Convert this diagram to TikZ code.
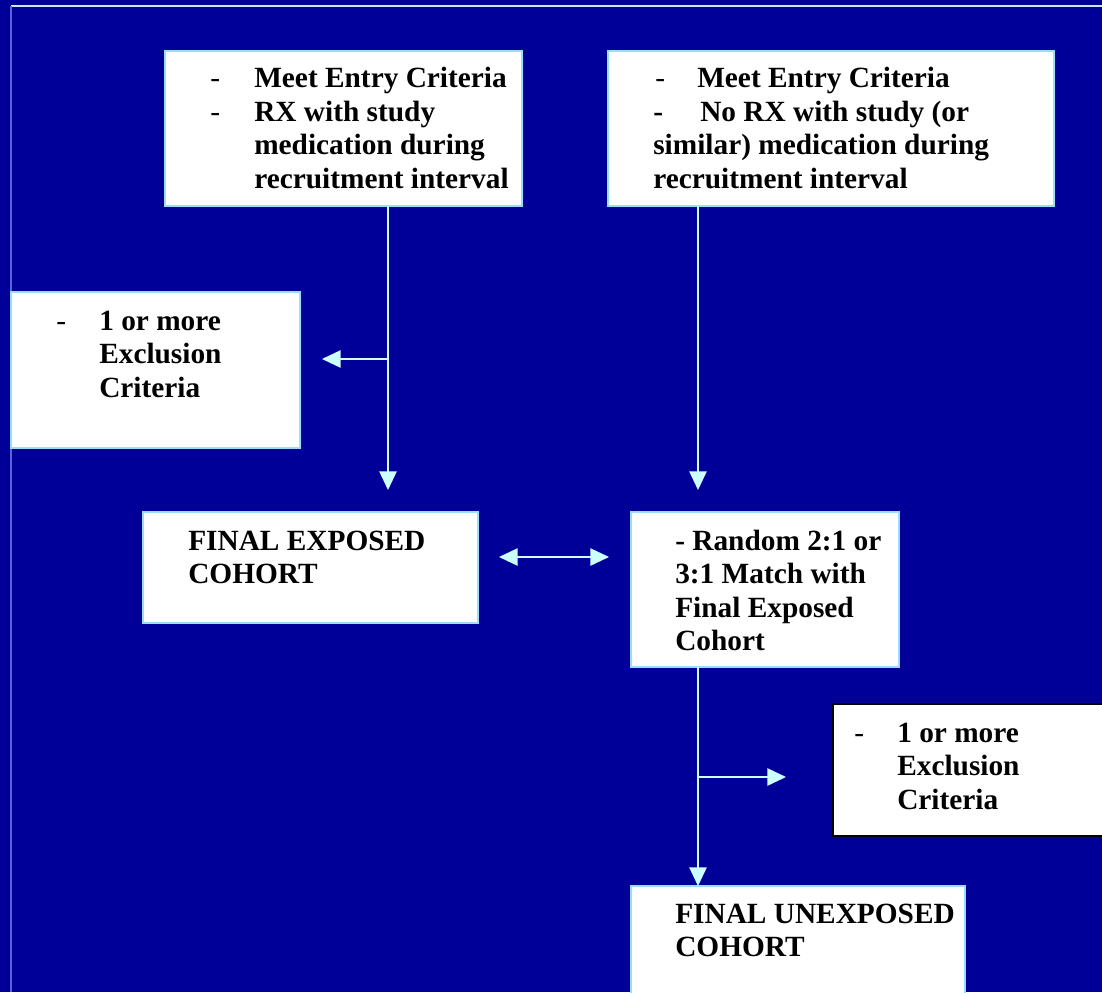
\documentclass[tikz,border=0pt]{standalone}
\usepackage{fontspec}
\setmainfont{Liberation Serif}
\usetikzlibrary{arrows.meta,calc}
\definecolor{bg}{HTML}{000099}
\definecolor{lcyan}{HTML}{CCFFFF}
\definecolor{frameline}{HTML}{CCE8FF}
\definecolor{leftline}{HTML}{5566D8}
\definecolor{boxedge}{HTML}{99DDFF}
\tikzset{
  box/.style={draw=boxedge, line width=1pt, fill=white, anchor=north west, inner sep=0pt, outer sep=0pt},
  blackbox/.style={box, draw=black, line width=1.6pt},
  txt/.style={font=\bfseries\fontsize{22}{25}\selectfont, anchor=base west, inner sep=0pt, text=black},
  thin/.style={font=\mdseries\fontsize{22}{25}\selectfont, anchor=base west, inner sep=0pt, text=black},
  arr/.style={draw=lcyan, line width=1.2pt, -{Triangle[length=14pt,width=13pt]}},
  darr/.style={draw=lcyan, line width=1.2pt, {Triangle[length=14pt,width=13pt]}-{Triangle[length=14pt,width=13pt]}},
  seg/.style={draw=lcyan, line width=1.2pt}
}
\begin{document}
\begin{tikzpicture}[x=0.75pt,y=-0.75pt]
\fill[bg] (0,0) rectangle (1102,992);
\useasboundingbox (0,0) rectangle (1102,992);
\clip (0,0) rectangle (1102,992);
\draw[frameline, line width=1.2pt] (11,6) -- (1102,6);
\draw[leftline, line width=1pt] (11,6) -- (11,992);
% boxes
\node[box, minimum width=357*0.75pt, minimum height=155*0.75pt] (b1) at (165,51) {};
\node[box, minimum width=446*0.75pt, minimum height=155*0.75pt] (b2) at (608,51) {};
\node[box, minimum width=289*0.75pt, minimum height=156*0.75pt] (b3) at (11,292) {};
\node[box, minimum width=335*0.75pt, minimum height=111*0.75pt] (b4) at (143,512) {};
\node[box, minimum width=268*0.75pt, minimum height=155*0.75pt] (b5) at (631,512) {};
\node[blackbox, minimum width=290*0.75pt, minimum height=132*0.75pt] (b6) at (833,704) {};
\node[box, minimum width=334*0.75pt, minimum height=140*0.75pt] (b7) at (631,886) {};
% texts box1
\node[thin] (t1a) at (210,87) {-};
\node[txt] (t1b) at (254,87) {Meet Entry Criteria};
\node[thin] (t1c) at (210,121) {-};
\node[txt] (t1d) at (254,121) {RX with study};
\node[txt] (t1e) at (254,154) {medication during};
\node[txt] (t1f) at (254,188) {recruitment interval};
% box2
\node[thin] (t2a) at (655,87) {-};
\node[txt] (t2b) at (697,87) {Meet Entry Criteria};
\node[txt] (t2c) at (653,121) {-};
\node[txt] (t2d) at (700,121) {No RX with study (or};
\node[txt] (t2e) at (653,154) {similar) medication during};
\node[txt] (t2f) at (653,188) {recruitment interval};
% box3
\node[thin] (t3a) at (56,330) {-};
\node[txt] (t3b) at (99,330) {1 or more};
\node[txt] (t3c) at (99,363) {Exclusion};
\node[txt] (t3d) at (99,397) {Criteria};
% box4
\node[txt] (t4a) at (188,550) {FINAL EXPOSED};
\node[txt] (t4b) at (188,583) {COHORT};
% box5
\node[txt] (t5a) at (675,550) {- Random 2:1 or};
\node[txt] (t5b) at (675,583) {3:1 Match with};
\node[txt] (t5c) at (675,617) {Final Exposed};
\node[txt] (t5d) at (675,650) {Cohort};
% box6
\node[thin] (t6a) at (854,742) {-};
\node[txt] (t6b) at (897,742) {1 or more};
\node[txt] (t6c) at (897,775) {Exclusion};
\node[txt] (t6d) at (897,809) {Criteria};
% box7
\node[txt] (t7a) at (675,923) {FINAL UNEXPOSED};
\node[txt] (t7b) at (675,956) {COHORT};
% connector coordinates
\coordinate (s1) at (388,206);
\coordinate (e1) at (388,490);
\coordinate (j1) at (388,359);
\coordinate (x1) at (322,359);
\coordinate (s2) at (698,206);
\coordinate (e2) at (698,490);
\coordinate (dl) at (499,557);
\coordinate (dr) at (609,557);
\coordinate (s3) at (698,667);
\coordinate (e3) at (698,886);
\coordinate (j3) at (698,777);
\coordinate (x3) at (786,777);
\draw[arr] (b1.south -| s1) -- (e1);
\draw[arr] (j1) -- (x1);
\draw[arr] (b2.south -| s2) -- (e2);
\draw[darr] (dl) -- (dr);
\draw[arr] (b5.south -| s3) -- (b7.north -| e3);
\draw[arr] (j3) -- (x3);
\end{tikzpicture}
\end{document}
